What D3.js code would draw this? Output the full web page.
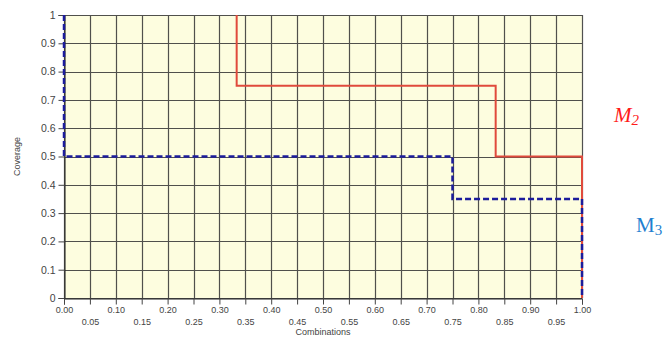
<!DOCTYPE html>
<html>
<head>
<meta charset="utf-8">
<script src="https://cdn.jsdelivr.net/npm/d3@7"></script>
<style>
  html, body { margin: 0; padding: 0; background: #fff; }
  svg { display: block; }
</style>
</head>
<body>
<svg id="chart" width="665" height="339"></svg>
<script>
// Step curves: coverage as a function of the share of combinations
const m2Steps = [
  { x: 1 / 3, y: 1.0 },
  { x: 1 / 3, y: 0.75 },
  { x: 5 / 6, y: 0.75 },
  { x: 5 / 6, y: 0.5 },
  { x: 1.0, y: 0.5 },
  { x: 1.0, y: 0.0 }
];
const m3Steps = [
  { x: 0.0, y: 1.0 },
  { x: 0.0, y: 0.5 },
  { x: 0.75, y: 0.5 },
  { x: 0.75, y: 0.35 },
  { x: 1.0, y: 0.35 },
  { x: 1.0, y: 0.0 }
];
const xTicks = d3.range(0, 21).map(i => i * 0.05);
const yTicks = d3.range(0, 11).map(i => i * 0.1);
const xTitle = "Combinations";
const yTitle = "Coverage";

const svg = d3.select("#chart");
const plotL = 64, plotR = 582, plotT = 15, plotB = 298;

const x = d3.scaleLinear().domain([0, 1]).range([plotL, plotR]);
const y = d3.scaleLinear().domain([0, 1]).range([plotB, plotT]);

// plot background
svg.append("rect")
  .attr("x", plotL).attr("y", plotT)
  .attr("width", plotR - plotL).attr("height", plotB - plotT)
  .attr("fill", "#fdfddf");

// grid
const grid = svg.append("g").attr("stroke", "#333").attr("stroke-width", 1.2).attr("opacity", 0.85);
grid.selectAll("line.v").data(xTicks).join("line")
  .attr("x1", d => Math.round(x(d)) + 0.5).attr("x2", d => Math.round(x(d)) + 0.5)
  .attr("y1", plotT).attr("y2", plotB);
grid.selectAll("line.h").data(yTicks).join("line")
  .attr("y1", d => Math.round(y(d)) + 0.5).attr("y2", d => Math.round(y(d)) + 0.5)
  .attr("x1", plotL).attr("x2", plotR);

// y axis
const yAxis = svg.append("g")
  .attr("transform", `translate(${plotL + 0.5},0)`)
  .call(d3.axisLeft(y).tickValues(yTicks).tickSize(6).tickPadding(3)
    .tickFormat(d => d3.format("")(+d.toFixed(1))));
yAxis.select(".domain").attr("stroke", "#222");
yAxis.selectAll(".tick line").attr("stroke", "#444");
yAxis.selectAll("text").attr("fill", "#444")
  .style("font-family", "'Liberation Sans', Arial, sans-serif").style("font-size", "10.5px");

// x axis with staggered labels
const xAxis = svg.append("g")
  .attr("transform", `translate(0,${plotB + 0.5})`)
  .call(d3.axisBottom(x).tickValues(xTicks).tickSize(6).tickPadding(3)
    .tickFormat(d => d.toFixed(2)));
xAxis.select(".domain").attr("stroke", "#222");
xAxis.selectAll(".tick line").attr("stroke", "#444");
xAxis.selectAll("text")
  .attr("fill", "#444")
  .attr("dy", (d, i) => i % 2 === 0 ? "0.6em" : "1.9em")
  .style("font-family", "'Liberation Sans', Arial, sans-serif").style("font-size", "9px");

// axis titles
svg.append("text")
  .attr("x", (plotL + plotR) / 2).attr("y", 335)
  .attr("text-anchor", "middle").attr("fill", "#444")
  .style("font-family", "'Liberation Sans', Arial, sans-serif").style("font-size", "9px")
  .text(xTitle);
svg.append("text")
  .attr("transform", `translate(20,${(plotT + plotB) / 2}) rotate(-90)`)
  .attr("text-anchor", "middle").attr("fill", "#444")
  .style("font-family", "'Liberation Sans', Arial, sans-serif").style("font-size", "9px")
  .text(yTitle);

// step lines
const line = d3.line().x(d => x(d.x)).y(d => y(d.y));
svg.append("path").datum(m2Steps)
  .attr("d", line).attr("fill", "none")
  .attr("stroke", "#e04a3c").attr("stroke-width", 2);
svg.append("path").datum(m3Steps)
  .attr("d", line).attr("fill", "none")
  .attr("stroke", "#1c1c9c").attr("stroke-width", 2.5)
  .attr("stroke-dasharray", "6,3");

// series labels
const m2 = svg.append("text")
  .attr("x", 614).attr("y", 122)
  .attr("fill", "#ff1a1a")
  .style("font-family", "'Liberation Serif', 'Times New Roman', serif")
  .style("font-size", "21px").style("font-style", "italic");
m2.append("tspan").text("M");
m2.append("tspan").attr("dy", 3).style("font-size", "15px").text("2");

const m3 = svg.append("text")
  .attr("x", 636).attr("y", 232)
  .attr("fill", "#1f7fd0")
  .style("font-family", "'Liberation Serif', 'Times New Roman', serif")
  .style("font-size", "21px");
m3.append("tspan").text("M");
m3.append("tspan").attr("dy", 3).style("font-size", "15px").text("3");
</script>
</body>
</html>
